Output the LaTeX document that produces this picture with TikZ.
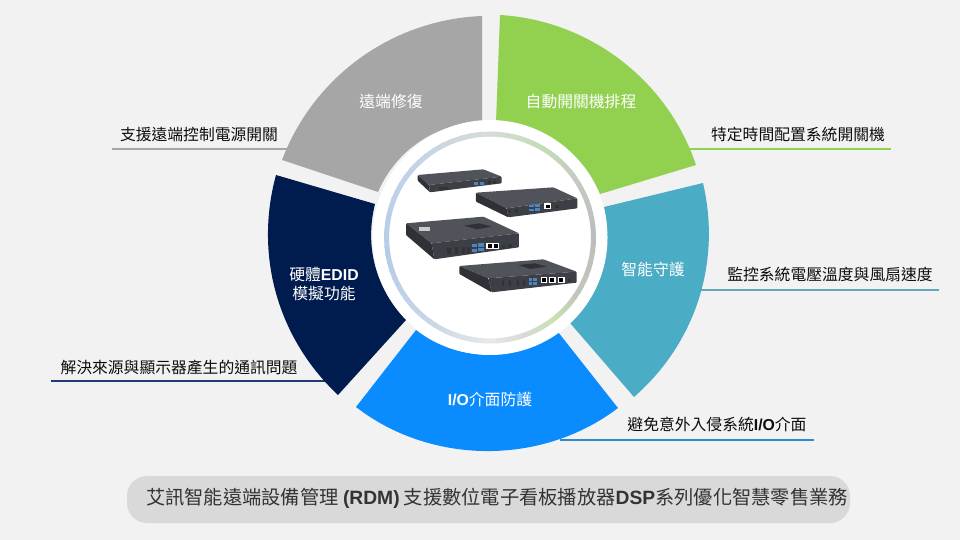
\documentclass[tikz,border=0pt]{standalone}
\usepackage{fontspec}
\setmainfont{Noto Sans CJK TC}
\newfontfamily\latinbold{Liberation Sans}
\newcommand{\lb}[1]{{\latinbold\bfseries #1}}
\usetikzlibrary{calc}
\definecolor{bgc}{HTML}{F2F2F2}
\definecolor{pillc}{HTML}{D9D9D9}
\definecolor{grayc}{HTML}{A6A6A6}
\definecolor{greenc}{HTML}{92D050}
\definecolor{tealc}{HTML}{4BACC6}
\definecolor{bluec}{HTML}{0A8CFF}
\definecolor{navyc}{HTML}{001C4E}
\definecolor{lnavy}{HTML}{1F3B7A}
\definecolor{lblue}{HTML}{2E8BC9}
\definecolor{lteal}{HTML}{5FA9B9}
\definecolor{ra}{HTML}{D6DBD8}
\definecolor{rb}{HTML}{C4DDB4}
\definecolor{rc}{HTML}{C4CCC0}
\definecolor{rd}{HTML}{BDBDBD}
\definecolor{re}{HTML}{C2C8BC}
\definecolor{rf}{HTML}{C8E2B4}
\definecolor{rg}{HTML}{D6DAD4}
\definecolor{rh}{HTML}{E8E9E8}
\definecolor{ri}{HTML}{C9D6E6}
\definecolor{rj}{HTML}{B4CCE8}
\definecolor{rk}{HTML}{C0D3E9}
\definecolor{dtop}{HTML}{50545A}
\definecolor{dfront}{HTML}{3C3F45}
\definecolor{dside}{HTML}{2F3136}
\definecolor{dusb}{HTML}{4A86C5}
\tikzset{
  slicearc/.style={bend left=#1,looseness=0.93},
  leader/.style={line width=2.4pt},
  wlabel/.style={text=white,font=\fontsize{15.8}{19}\selectfont,align=center,inner sep=0pt},
  blabel/.style={text=black!95,font=\fontsize{15.8}{19}\selectfont,inner sep=0pt},
  toplook/.style={fill=dtop,rounded corners=0.8pt},
  frontlook/.style={fill=dfront,rounded corners=0.8pt},
  sidelook/.style={fill=dside,rounded corners=0.8pt},
  blackport/.style={fill=black!80},
  usbport/.style={fill=dusb},
  rjport/.style={fill=white}
}
\begin{document}
\begin{tikzpicture}[x=1pt,y=-1pt]
\useasboundingbox (0,0) rectangle (960,540);
\fill[bgc] (0,0) rectangle (960,540);
% leader ends
\coordinate (g1) at (112,149); \coordinate (g2) at (290,149);
\coordinate (v1) at (685,149); \coordinate (v2) at (891,149);
\coordinate (t1) at (700,290); \coordinate (t2) at (939,290);
\coordinate (n1) at (51,381);  \coordinate (n2) at (330,381);
\coordinate (b1) at (560,440); \coordinate (b2) at (814,440);
\draw[leader,grayc] (g1) -- (g2);
\draw[leader,greenc] (v1) -- (v2);
\draw[leader,lteal] (t1) -- (t2);
\draw[leader,lnavy] (n1) -- (n2);
\draw[leader,lblue] (b1) -- (b2);
% slices
\fill[grayc] (282,160) to[slicearc=33.5] (482,16) -- (482,122) to[slicearc=-33] (378,192) -- cycle;
\fill[greenc] (500,15) to[slicearc=34] (696,165) -- (600,194) to[slicearc=-33] (496,122) -- cycle;
\fill[tealc] (703,183) to[slicearc=31] (634,397) -- (570,323) to[slicearc=-29] (604,207) -- cycle;
\fill[bluec] (618,408) to[slicearc=37.5] (356,407) -- (416,330) to[slicearc=-37.5] (558,332) -- cycle;
\fill[navyc] (338,395) to[slicearc=31] (276,175) -- (375,204) to[slicearc=-29] (406,320) -- cycle;
% centre
\coordinate (c) at (490,237.5);
\fill[white] (c) circle[radius=117.5pt];
\foreach \a/\b/\ca/\cb in {90/60/ra/rb,60/35/rb/rc,35/0/rc/rd,0/-35/rd/re,-35/-52/re/rf,-52/-70/rf/rg,-70/-90/rg/rh,-90/-125/rh/ri,-125/-170/ri/rj,-170/-215/rj/rk,-215/-270/rk/ra}{
  \foreach \t in {0,...,9}{
    \pgfmathsetmacro{\sa}{-(\a+(\b-\a)*\t/10)}
    \pgfmathsetmacro{\sb}{-(\a+(\b-\a)*(\t+1.2)/10)}
    \pgfmathsetmacro{\pc}{100-10*\t-5}
    \draw[line width=5pt,\ca!\pc!\cb] ([shift={(\sa:103.5)}]c) -- ([shift={(\sb:103.5)}]c);
  }
}
% devices, in a local frame of thirds of a pixel
\begin{scope}[x=0.3333pt,y=-0.3333pt,shift={(380pt,-130pt)}]
 % device 1
 \fill[toplook] (113,135) -- (310,118) -- (365,140) -- (147,165) -- cycle;
 \fill[frontlook] (147,165) -- (365,140) -- (365,160) -- (150,187) -- cycle;
 \fill[sidelook] (113,135) -- (147,165) -- (150,187) -- (113,152) -- cycle;
 \fill[blackport] (178,170) rectangle (204,179);
 \foreach \x in {282,300}{\fill[usbport] (\x,156) rectangle (\x+12,164);}
 \foreach \x in {325,340}{\fill[blackport] (\x,153) rectangle (\x+8,161);}
 % device 2
 \fill[toplook] (288,188) -- (520,172) -- (592,205) -- (380,235) -- cycle;
 \fill[frontlook] (380,235) -- (592,205) -- (592,235) -- (385,262) -- cycle;
 \fill[sidelook] (288,188) -- (380,235) -- (385,262) -- (288,215) -- cycle;
 \foreach \x/\y in {446/224,466/222,446/236,466/234}{\fill[usbport] (\x,\y) rectangle (\x+15,\y+8);}
 \fill[rjport] (492,220) rectangle (514,238);
 \fill[black] (497,225) rectangle (509,234);
 \fill[blackport] (384,240) rectangle (394,250);
 \fill[blackport] (404,238) rectangle (414,248);
 \fill[blackport] (526,224) rectangle (536,234);
 % device 3
 \fill[toplook] (78,280) -- (310,260) -- (417,310) -- (155,340) -- cycle;
 \fill[frontlook] (155,340) -- (417,310) -- (417,352) -- (163,388) -- cycle;
 \fill[sidelook] (78,280) -- (155,340) -- (163,388) -- (78,315) -- cycle;
 \fill[dside] (252,287) -- (298,280) -- (335,290) -- (290,298) -- cycle;
 \fill[white!70!dtop] (118,292) rectangle (150,302);
 \foreach \x in {226,246,262}{\fill[blackport] (\x,350) rectangle (\x+8,372);}
 \foreach \x/\y in {275/342,295/340,275/356,295/354}{\fill[usbport] (\x,\y) rectangle (\x+16,\y+10);}
 \fill[rjport] (318,338) rectangle (358,358);
 \fill[black] (323,343) rectangle (335,353);
 \fill[black] (341,343) rectangle (353,353);
 \fill[blackport] (366,344) rectangle (376,356);
 \fill[blackport] (385,342) rectangle (395,354);
 \fill[blackport] (200,355) rectangle (212,372);
 % device 4
 \fill[toplook] (238,408) -- (490,388) -- (590,425) -- (325,445) -- cycle;
 \fill[frontlook] (325,445) -- (590,425) -- (590,458) -- (335,487) -- cycle;
 \fill[sidelook] (238,408) -- (325,445) -- (335,487) -- (238,432) -- cycle;
 \fill[dside] (415,405) -- (465,400) -- (500,410) -- (450,417) -- cycle;
 \foreach \x in {366,388,410,430}{\fill[blackport] (\x,450) rectangle (\x+6,468);}
 \foreach \x/\y in {446/444,460/443,446/456,460/455}{\fill[usbport] (\x,\y) rectangle (\x+11,\y+9);}
 \foreach \x in {482,507,534}{\fill[rjport] (\x,441) rectangle (\x+20,459); \fill[black] (\x+4,445) rectangle (\x+16,456);}
 \fill[blackport] (565,447) rectangle (572,455);
\end{scope}
% slice labels
\node[wlabel] (lgray) at (391,102) {遠端修復};
\node[wlabel] (lgreen) at (581,102) {自動開關機排程};
\node[wlabel] (lteal) at (653,269) {智能守護};
\node[wlabel] (lblue) at (490,399) {\lb{I/O}介面防護};
\node[wlabel] (lnavy) at (324,284) {硬體\lb{EDID}\\[-0.5pt]模擬功能};
% outer labels
\node[blabel] (tgray) at (199,134) {支援遠端控制電源開關};
\node[blabel] (tgreen) at (798,134) {特定時間配置系統開關機};
\node[blabel] (tteal) at (830,274) {監控系統電壓溫度與風扇速度};
\node[blabel] (tnavy) at (179,368) {解決來源與顯示器產生的通訊問題};
\node[blabel] (tblue) at (717,424) {避免意外入侵系統\lb{I/O}介面};
% caption
\fill[pillc,rounded corners=20pt] (127,476) rectangle (850,523);
\node[text=black!80,font=\fontsize{19.25}{23}\selectfont,inner sep=0pt] (cap) at (497,498.5) {艾訊智能遠端設備管理 \lb{(RDM)} 支援數位電子看板播放器\lb{DSP}系列優化智慧零售業務};
\end{tikzpicture}
\end{document}
